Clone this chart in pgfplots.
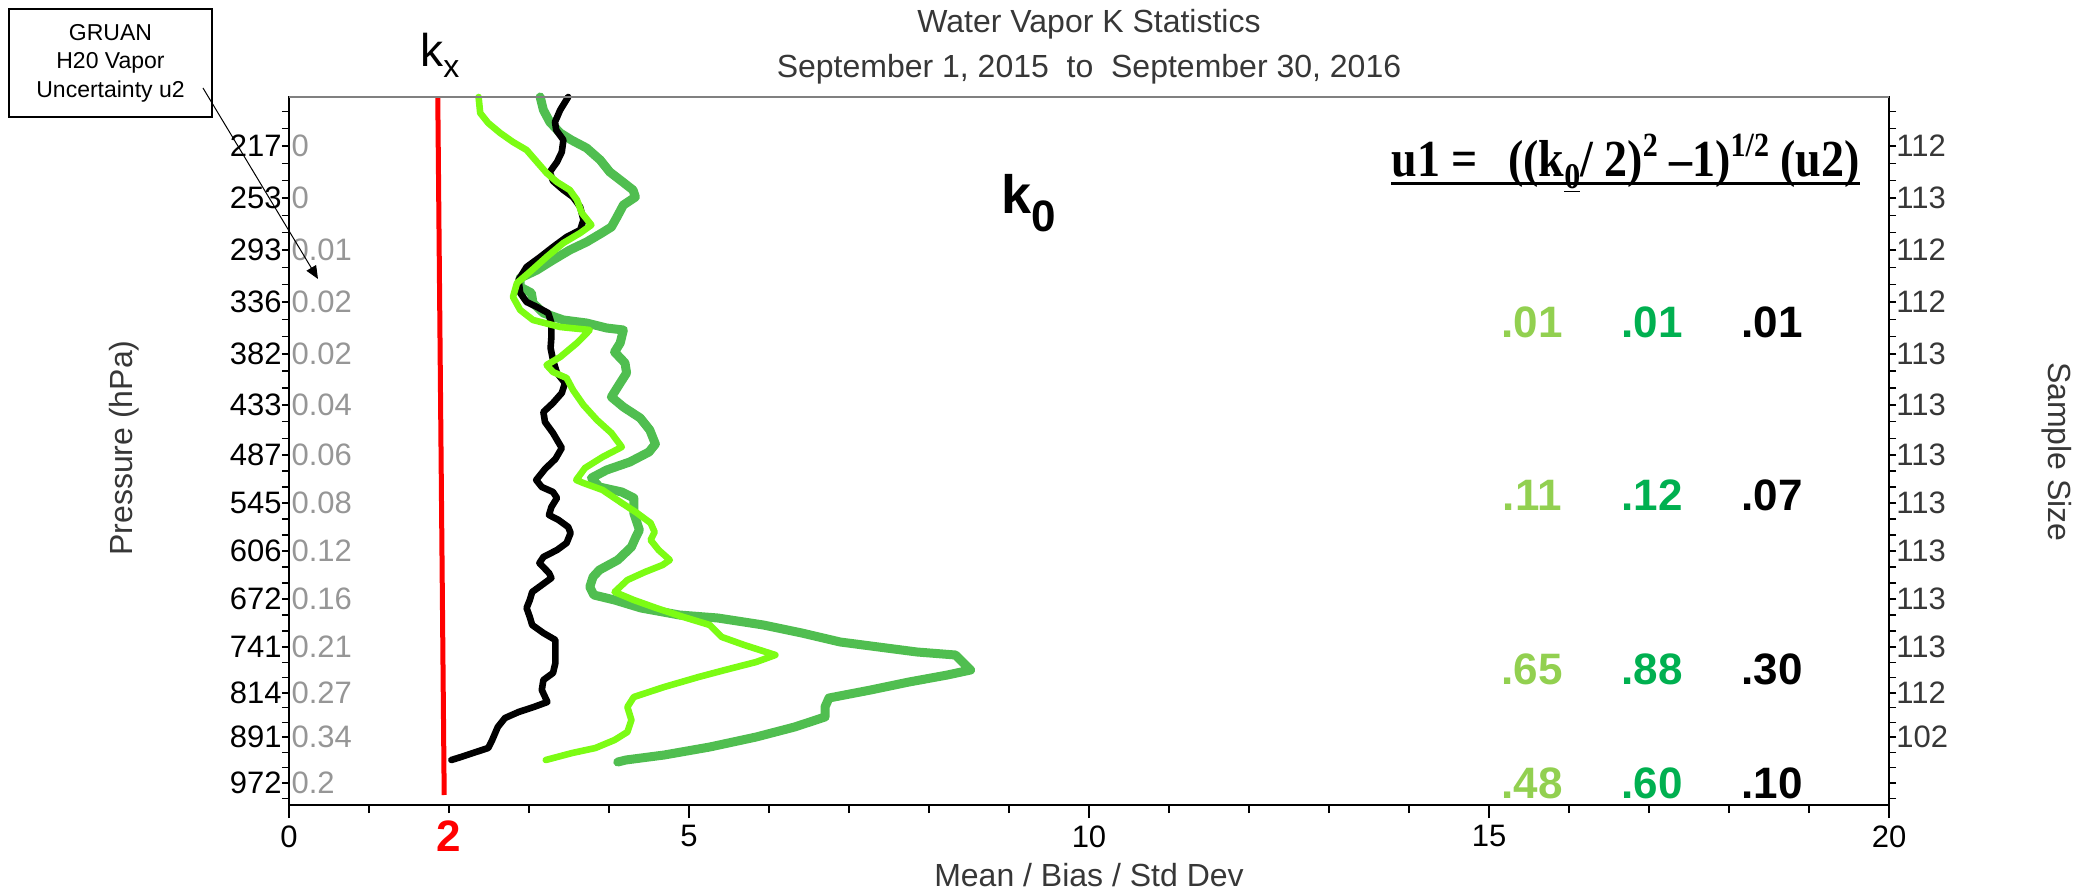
\documentclass[border=0pt]{standalone}
\usepackage{fontspec}
\setmainfont{Liberation Sans}
\newfontfamily\timesfont{Liberation Serif}
\usepackage{pgfplots}
\pgfplotsset{compat=1.18}
\usetikzlibrary{arrows.meta}
\definecolor{limeg}{RGB}{124,252,20}
\definecolor{dkgreen}{RGB}{80,190,80}
\definecolor{numlight}{RGB}{146,208,80}
\definecolor{numdark}{RGB}{0,176,80}
\definecolor{txtgray}{RGB}{55,55,55}
\definecolor{ugray}{RGB}{150,150,150}
\newcommand{\fs}[1]{\fontsize{#1}{#1}\selectfont}
\begin{document}
\begin{tikzpicture}
% ---------- left / right y ticks, pressure labels with u2 values
\begin{axis}[at={(0,0)}, anchor=south west, scale only axis, width=800pt, height=354pt,
  xmin=0, xmax=20, ymin=0, ymax=708,
  axis x line=none, axis y line=box,
  xtick=\empty,
  ytick={22,68,112,158,206,254,302,350,400,451,503,555,607,659},
  yticklabels={972\rlap{\hspace{5pt}\textcolor{ugray}{0.2}},
    891\rlap{\hspace{5pt}\textcolor{ugray}{0.34}},
    814\rlap{\hspace{5pt}\textcolor{ugray}{0.27}},
    741\rlap{\hspace{5pt}\textcolor{ugray}{0.21}},
    672\rlap{\hspace{5pt}\textcolor{ugray}{0.16}},
    606\rlap{\hspace{5pt}\textcolor{ugray}{0.12}},
    545\rlap{\hspace{5pt}\textcolor{ugray}{0.08}},
    487\rlap{\hspace{5pt}\textcolor{ugray}{0.06}},
    433\rlap{\hspace{5pt}\textcolor{ugray}{0.04}},
    382\rlap{\hspace{5pt}\textcolor{ugray}{0.02}},
    336\rlap{\hspace{5pt}\textcolor{ugray}{0.02}},
    293\rlap{\hspace{5pt}\textcolor{ugray}{0.01}},
    253\rlap{\hspace{5pt}\textcolor{ugray}{0}},
    217\rlap{\hspace{5pt}\textcolor{ugray}{0}}},
  minor ytick={6.7,37.3,52.7,82.7,97.3,127.3,142.7,174,190,222,238,270,286,318,334,366.7,383.3,417,434,468.3,485.7,520.3,537.7,572.3,589.7,624.3,641.7,676.3,693.6},
  ytick pos=both, yticklabel pos=left,
  tick align=outside, major tick length=3.5pt, minor tick length=3.5pt,
  tick style={black, line width=0.75pt},
  axis line style={black, line width=0.9pt},
  yticklabel style={font=\fs{15.5}, anchor=east, inner sep=0pt},
]
\end{axis}
% ---------- right sample-size labels
\begin{axis}[at={(0,0)}, anchor=south west, scale only axis, width=800pt, height=354pt,
  xmin=0, xmax=20, ymin=0, ymax=708,
  axis x line=none, axis y line*=right,
  y axis line style={draw=none},
  xtick=\empty,
  ytick={22,68,112,158,206,254,302,350,400,451,503,555,607,659},
  yticklabels={\mbox{},102,112,113,113,113,113,113,113,113,112,112,113,112},
  major tick length=0pt, minor tick length=0pt,
  yticklabel style={font=\fs{15.5}, text=txtgray, anchor=west, inner sep=0pt, xshift=3.5pt},
]
\end{axis}
% ---------- main axis with data
\begin{axis}[at={(0,0)}, anchor=south west, scale only axis, width=800pt, height=354pt,
  xmin=0, xmax=20, ymin=0, ymax=708, clip=false,
  ytick=\empty,
  xtick={0,5,10,15,20}, xticklabels={0,5,10,15,20},
  minor xtick={1,2,3,4,6,7,8,9,11,12,13,14,16,17,18,19},
  xtick pos=left, tick align=outside,
  major tick length=6.5pt, minor tick length=4pt,
  tick style={black, line width=0.75pt},
  axis line style={black, line width=0.9pt},
  xticklabel style={font=\fs{15.5}, inner sep=0pt, anchor=north, yshift=-3.5pt},
]
% dark green
\addplot[dkgreen, line width=4.5pt, line join=round, line cap=round] coordinates {
(3.14,708) (3.18,695) (3.26,683) (3.39,672) (3.53,665) (3.72,657) (3.89,645) (4.01,633)
(4.14,625) (4.30,615) (4.33,608) (4.18,600) (4.10,588) (4.03,578) (3.91,572) (3.72,563)
(3.51,555) (3.30,545) (3.10,535) (2.89,527) (2.89,518) (3.03,512) (3.05,502) (3.18,492)
(3.43,485) (3.72,482) (3.97,477) (4.18,475) (4.14,462) (4.07,453) (4.20,442) (4.22,432)
(4.14,422) (4.03,408) (4.18,398) (4.39,387) (4.51,375) (4.58,361) (4.50,353) (4.26,343)
(3.97,335) (3.78,327) (3.88,318) (4.16,313) (4.31,307) (4.31,292) (4.38,275) (4.33,267)
(4.28,258) (4.11,245) (3.88,235) (3.80,228) (3.76,218) (3.81,210) (4.07,205) (4.40,197)
(4.88,190) (5.36,187) (5.93,180) (6.41,172) (6.89,163) (7.37,158) (7.85,153) (8.33,150)
(8.52,135) (8.23,130) (7.75,123) (7.27,115) (6.75,107) (6.70,98) (6.70,88) (6.32,78)
(5.84,68) (5.26,58) (4.69,50) (4.21,45) (4.11,43)};
% black
\addplot[black, line width=3.3pt, line join=round, line cap=round] coordinates {
(3.49,708) (3.39,695) (3.325,683) (3.34,675) (3.43,665) (3.41,653) (3.35,643) (3.26,633)
(3.30,624) (3.43,615) (3.55,608) (3.64,598) (3.68,585) (3.64,575) (3.47,568) (3.30,558)
(3.14,548) (2.97,538) (2.87,525) (2.89,512) (2.97,503) (3.10,498) (3.24,492) (3.28,482)
(3.28,468) (3.27,457) (3.30,445) (3.35,432) (3.45,422) (3.41,412) (3.30,402) (3.18,393)
(3.20,383) (3.30,372) (3.41,357) (3.33,346) (3.20,336) (3.09,325) (3.16,318) (3.30,313)
(3.35,307) (3.28,298) (3.25,290) (3.37,285) (3.49,278) (3.52,272) (3.47,262) (3.35,255)
(3.18,248) (3.13,242) (3.25,232) (3.28,227) (3.16,220) (3.04,213) (3.01,205) (2.97,197)
(3.01,188) (3.04,180) (3.18,172) (3.33,165) (3.33,155) (3.33,142) (3.30,132) (3.18,125)
(3.16,115) (3.23,103) (3.06,98) (2.87,93) (2.70,87) (2.61,78) (2.54,65) (2.49,57)
(2.30,52) (2.15,48) (2.03,45)};
% lime
\addplot[limeg, line width=3.3pt, line join=round, line cap=round] coordinates {
(2.37,708) (2.39,692) (2.49,682) (2.64,672) (2.80,663) (2.97,655) (3.10,643) (3.22,632)
(3.35,623) (3.51,615) (3.60,605) (3.66,592) (3.78,580) (3.64,572) (3.43,562) (3.22,548)
(3.01,533) (2.85,522) (2.80,508) (2.89,495) (3.05,485) (3.39,478) (3.76,475) (3.60,462)
(3.39,448) (3.22,440) (3.30,433) (3.47,427) (3.55,415) (3.68,400) (3.85,385) (4.03,372)
(4.16,358) (3.92,348) (3.70,337) (3.59,325) (3.68,322) (3.92,315) (4.16,302) (4.35,292)
(4.52,282) (4.57,273) (4.52,265) (4.62,255) (4.76,245) (4.67,240) (4.45,233) (4.23,225)
(4.07,213) (4.31,205) (4.59,197) (4.93,188) (5.26,180) (5.41,168) (5.69,160) (6.08,150)
(5.84,143) (5.45,135) (5.12,128) (4.69,118) (4.31,108) (4.23,98) (4.28,85) (4.23,73)
(4.07,65) (3.83,57) (3.54,52) (3.21,45)};
% red k_x line
\addplot[red, line width=2.5pt] coordinates {(1.86,707) (1.94,10)};
% top frame line in gray
\draw[line width=0.9pt, color=gray] (rel axis cs:0,1) -- (rel axis cs:1,1);
% titles and labels
\node[font=\fs{16}, text=txtgray] at (axis cs:10,781) {Water Vapor K Statistics};
\node[font=\fs{16}, text=txtgray] at (axis cs:10,736) {September 1, 2015\ \ to\ \ September 30, 2016};
\node[font=\fs{16}, text=txtgray] at (axis cs:10,-70) {Mean / Bias / Std Dev};
\node[font=\fs{16}, text=txtgray, rotate=90] at (axis cs:-2.0625,357) {Pressure (hPa)};
\node[font=\fs{16}, text=txtgray, rotate=-90] at (axis cs:22.1,353) {Sample Size};
\node[font=\bfseries\fs{22}, text=red] at (axis cs:2,-31) {2};
% GRUAN box and arrow
\node[draw=black, line width=0.75pt, minimum width=101.5pt, minimum height=54pt, inner sep=0pt,
  align=center, font=\fontsize{11.5}{14.3}\selectfont] at (axis cs:-2.231,742)
  {GRUAN\\H20 Vapor\\Uncertainty u2};
\draw[line width=0.5pt, -{Triangle[length=6.5pt, width=5.5pt]}] (axis cs:-1.075,717) -- (axis cs:0.3625,526);
% k_x and k_0
\node[anchor=base west, inner sep=0pt] at (axis cs:1.6375,738)
  {\fs{23}k\raisebox{-5.5pt}{\fs{16}x}};
\node[anchor=base west, inner sep=0pt] at (axis cs:8.9,591)
  {\bfseries\fs{27}k\raisebox{-9pt}{\fs{22}0}};
% formula
\node[anchor=base east, inner sep=0pt] (f) at (axis cs:19.64,628)
  {\scalebox{1}[1.13]{\timesfont\bfseries\fs{23}u1 =\hspace{15pt}((k\raisebox{-5pt}{\fs{16}\underline{0}}/ 2)\raisebox{9pt}{\fs{15}2} –1)\raisebox{9pt}{\fs{15}1/2} (u2)}};
\draw[line width=1.5pt] ([yshift=-3.3pt]f.base west) -- ([yshift=-3.3pt]f.base east);
% u1 values
\node[anchor=base, font=\bfseries\fs{22}, text=numlight] at (axis cs:15.54,467) {.01};
\node[anchor=base, font=\bfseries\fs{22}, text=numdark]  at (axis cs:17.04,467) {.01};
\node[anchor=base, font=\bfseries\fs{22}, text=black]    at (axis cs:18.54,467) {.01};
\node[anchor=base, font=\bfseries\fs{22}, text=numlight] at (axis cs:15.54,294) {.11};
\node[anchor=base, font=\bfseries\fs{22}, text=numdark]  at (axis cs:17.04,294) {.12};
\node[anchor=base, font=\bfseries\fs{22}, text=black]    at (axis cs:18.54,294) {.07};
\node[anchor=base, font=\bfseries\fs{22}, text=numlight] at (axis cs:15.54,121) {.65};
\node[anchor=base, font=\bfseries\fs{22}, text=numdark]  at (axis cs:17.04,121) {.88};
\node[anchor=base, font=\bfseries\fs{22}, text=black]    at (axis cs:18.54,121) {.30};
\node[anchor=base, font=\bfseries\fs{22}, text=numlight] at (axis cs:15.54,7) {.48};
\node[anchor=base, font=\bfseries\fs{22}, text=numdark]  at (axis cs:17.04,7) {.60};
\node[anchor=base, font=\bfseries\fs{22}, text=black]    at (axis cs:18.54,7) {.10};
\end{axis}
\pgfresetboundingbox
\path[use as bounding box] (-144.5pt,-42.5pt) rectangle (892.5pt,402.5pt);
\end{tikzpicture}
\end{document}
